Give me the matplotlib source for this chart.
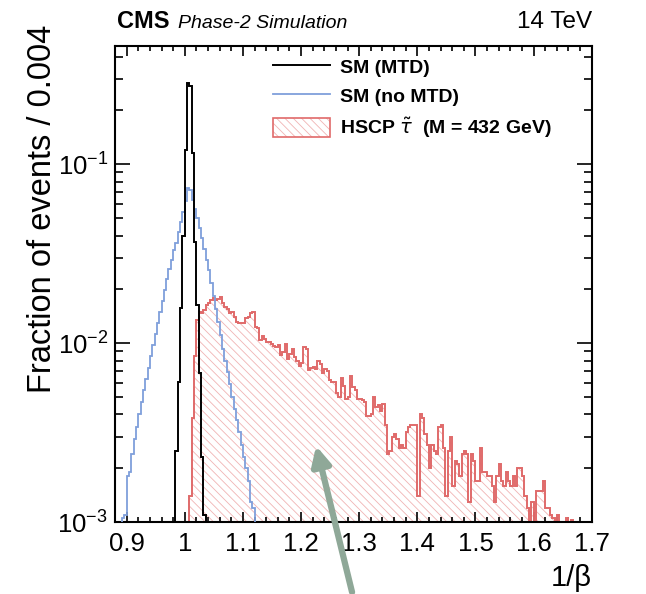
import numpy as np
import matplotlib
matplotlib.use("Agg")
import matplotlib.pyplot as plt
from matplotlib.patches import Patch
from matplotlib.lines import Line2D
from matplotlib.ticker import MultipleLocator, LogLocator, FuncFormatter, NullFormatter

plt.rcParams["font.family"] = ["Liberation Sans", "DejaVu Sans"]
plt.rcParams["hatch.linewidth"] = 0.6

BIN_WIDTH = 0.004

# SM (MTD): bins starting at 0.976
sm_mtd_start = 0.976
sm_mtd = [0.0004, 0.0009, 0.0025, 0.0061, 0.0157, 0.040, 0.120, 0.285, 0.275,
          0.115, 0.037, 0.0164, 0.0068, 0.0023, 0.0011, 0.0006, 0.0003]

# SM (no MTD): bins starting at 0.888
sm_nomtd_start = 0.888
sm_nomtd = [0.0005, 0.00105, 0.0011, 0.0018, 0.0019, 0.0024, 0.0029, 0.0034,
            0.0040, 0.0047, 0.0055, 0.0063, 0.0073, 0.0085, 0.0098, 0.0113,
            0.0130, 0.0150, 0.0172, 0.0198, 0.0228, 0.0260, 0.0290, 0.0330,
            0.0365, 0.0420, 0.0475, 0.0540, 0.0620, 0.0740, 0.0720, 0.0630,
            0.0560, 0.0500, 0.0440, 0.0385, 0.0335, 0.0290, 0.0255, 0.0218,
            0.0183, 0.0155, 0.0131, 0.0111, 0.0093, 0.0080, 0.0069, 0.0059,
            0.0050, 0.0043, 0.0037, 0.0032, 0.0027, 0.0023, 0.0020, 0.0017,
            0.0013, 0.0012, 0.0008]

# HSCP stau (M = 432 GeV): bins starting at 1.000
hscp_start = 1.000
hscp = [
    # 1.000 - 1.096
    0.0007, 0.0009, 0.0014, 0.0038, 0.0085, 0.0135, 0.0150, 0.0147, 0.0153,
    0.0163, 0.0168, 0.0174, 0.0178, 0.0174, 0.0176, 0.0182, 0.0167, 0.0160,
    0.0156, 0.0147, 0.0150, 0.0141, 0.0132, 0.0130, 0.0129,
    # 1.100 - 1.196
    0.0129, 0.0138, 0.0141, 0.0147, 0.0150, 0.0124, 0.0121, 0.0104, 0.0110,
    0.0106, 0.0102, 0.0101, 0.0099, 0.0096, 0.0095, 0.0098, 0.0086, 0.0089,
    0.0099, 0.0082, 0.0087, 0.0093, 0.0084, 0.0080, 0.0075,
    # 1.200 - 1.296
    0.0078, 0.0095, 0.0093, 0.0071, 0.0073, 0.0074, 0.0072, 0.0080, 0.0077,
    0.0068, 0.0072, 0.0070, 0.0062, 0.0061, 0.0061, 0.0053, 0.0050, 0.0064,
    0.0058, 0.0049, 0.0050, 0.0066, 0.0057, 0.0055, 0.0049,
    # 1.300 - 1.396
    0.0049, 0.0048, 0.0047, 0.0039, 0.0039, 0.0040, 0.0050, 0.0044, 0.0045,
    0.0042, 0.0046, 0.0035, 0.0024, 0.0025, 0.0030, 0.0031, 0.0029, 0.0026,
    0.0027, 0.0026, 0.0032, 0.0034, 0.0035, 0.0035, 0.0035,
    # 1.400 - 1.496
    0.0014, 0.0040, 0.0038, 0.0031, 0.0027, 0.0020, 0.0027, 0.0025, 0.0024,
    0.0034, 0.0035, 0.0026, 0.0014, 0.0025, 0.0030, 0.0016, 0.0022, 0.0021,
    0.0018, 0.0024, 0.0025, 0.0024, 0.0013, 0.0024, 0.0022,
    # 1.500 - 1.596
    0.0017, 0.0017, 0.0026, 0.0019, 0.0019, 0.0018, 0.0018, 0.0016, 0.0013,
    0.0018, 0.0021, 0.0017, 0.0016, 0.0019, 0.0017, 0.0016, 0.0018, 0.0016,
    0.0020, 0.0020, 0.0018, 0.0014, 0.0012, 0.0009, 0.0013,
    # 1.600 - 1.676
    0.0008, 0.0015, 0.0015, 0.0015, 0.0017, 0.0012, 0.0012, 0.0011, 0.00105,
    0.0009, 0.0011, 0.0008, 0.0009, 0.0007, 0.00105, 0.0008, 0.00103, 0.0007,
    0.0005, 0.0004,
]

X_RANGE = (0.88, 1.70)
Y_RANGE = (1e-3, 0.46)

RED = "#e06a6a"
HATCH_RED = "#f0b4b4"
BLUE = "#7f9fdb"
ARROW = "#8fa898"


def _edges(start, values):
    return start + BIN_WIDTH * np.arange(len(values) + 1)


def main():
    fig = plt.figure(figsize=(6.46, 5.94), dpi=100)
    ax = fig.add_axes([0.178, 0.121, 0.738, 0.802])
    ax.set_yscale("log")

    hscp_edges = _edges(hscp_start, hscp)
    ax.stairs(hscp, hscp_edges, baseline=1e-6, fill=True, facecolor="none",
              edgecolor=HATCH_RED, hatch="\\\\\\\\", linewidth=0, zorder=1)
    ax.stairs(hscp, hscp_edges, baseline=1e-6, color=RED, linewidth=1.4, zorder=2)
    ax.stairs(sm_nomtd, _edges(sm_nomtd_start, sm_nomtd), baseline=1e-6,
              color=BLUE, linewidth=1.3, zorder=3)
    ax.stairs(sm_mtd, _edges(sm_mtd_start, sm_mtd), baseline=1e-6,
              color="black", linewidth=1.4, zorder=4)

    ax.set_xlim(*X_RANGE)
    ax.set_ylim(*Y_RANGE)

    ax.xaxis.set_major_locator(MultipleLocator(0.1))
    ax.xaxis.set_minor_locator(MultipleLocator(0.02))
    ax.xaxis.set_major_formatter(FuncFormatter(lambda v, _: f"{v:g}"))
    ax.yaxis.set_major_locator(LogLocator(base=10))
    ax.yaxis.set_minor_locator(LogLocator(base=10, subs=np.arange(2, 10)))
    ax.yaxis.set_minor_formatter(NullFormatter())

    ax.tick_params(which="both", direction="in", top=True, right=True,
                   labelsize=18.5, width=1.2)
    ax.tick_params(axis="x", which="major", length=7, pad=7)
    ax.tick_params(axis="x", which="minor", length=3.5)
    ax.tick_params(axis="y", which="major", length=11, pad=5)
    ax.tick_params(axis="y", which="minor", length=5.5)
    for spine in ax.spines.values():
        spine.set_linewidth(1.5)

    ax.set_xlabel("1/β", fontsize=21, loc="right", labelpad=6)
    ax.set_ylabel("Fraction of events / 0.004", fontsize=23.5)
    ax.yaxis.set_label_coords(-0.12, 1.044)
    ax.yaxis.label.set_horizontalalignment("right")

    fig.text(0.181, 0.953, "CMS", fontsize=17, fontweight="bold", va="baseline")
    fig.text(0.276, 0.953, "Phase-2 Simulation", fontsize=14, style="italic",
             va="baseline")
    fig.text(0.916, 0.953, "14 TeV", fontsize=17.5, ha="right", va="baseline")

    handles = [
        Line2D([], [], color="black", linewidth=1.4),
        Line2D([], [], color=BLUE, linewidth=1.3),
        (Patch(facecolor="white", edgecolor=HATCH_RED, hatch="\\\\\\\\", linewidth=0),
         Patch(facecolor="none", edgecolor=RED, linewidth=1.2)),
    ]
    labels = ["SM (MTD)", "SM (no MTD)", r"HSCP $\tilde{\tau}$  (M = 432 GeV)"]
    ax.legend(handles, labels, loc="upper left", bbox_to_anchor=(0.331, 0.977),
              frameon=False, prop={"size": 14, "weight": "bold"},
              handlelength=2.95, handleheight=1.1, labelspacing=0.5,
              handletextpad=0.5, borderaxespad=0, borderpad=0)

    ax.annotate("", xy=(1.226, 0.00267), xycoords="data",
                xytext=(0.545, 0.003), textcoords="figure fraction",
                arrowprops=dict(arrowstyle="-|>", color=ARROW, lw=4.5,
                                mutation_scale=28, shrinkA=0, shrinkB=0),
                annotation_clip=False, zorder=10)

    fig.savefig("out.png", dpi=100)


if __name__ == "__main__":
    main()
